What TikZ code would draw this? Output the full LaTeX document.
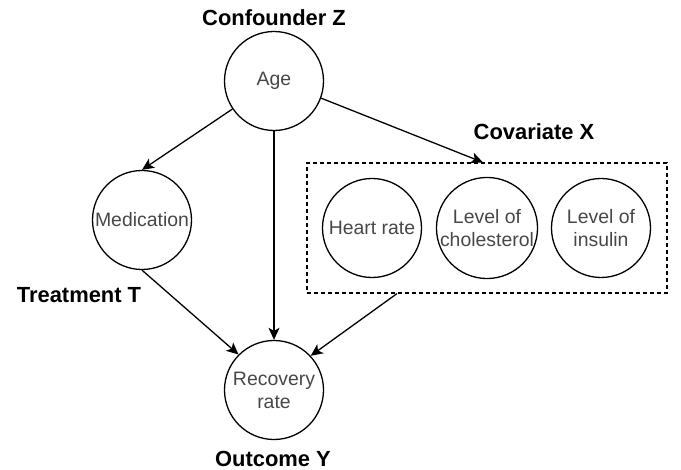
\documentclass[tikz,border=0pt]{standalone}
\usepackage{fontspec}
\setmainfont{Liberation Sans}
\usetikzlibrary{arrows.meta}
\begin{document}
\begin{tikzpicture}[x=1bp,y=-1bp,
  var/.style={circle,draw,line width=1.3bp,minimum size=99bp,inner sep=0pt,align=center,
    font=\fontsize{19.5}{23}\selectfont,text=black!72},
  lbl/.style={font=\bfseries\fontsize{22}{26}\selectfont},
  arr/.style={line width=1.3bp,-{Stealth[length=12bp,width=11bp,inset=3bp]}},
  groupbox/.style={draw,line width=1.2bp,dash pattern=on 4bp off 3bp,minimum width=360bp,minimum height=130bp,inner sep=0pt}]
\useasboundingbox (0,0) rectangle (681,470);
\node[groupbox] (box) at (487,228) {};
\node[var] (age) at (274,81) {Age};
\node[var] (med) at (142,220) {Medication};
\node[var] (rec) at (274,390) {Recovery\\rate};
\node[var] (hr) at (372,228) {Heart rate};
\node[var] (chol) at (487,228) {Level of\\cholesterol};
\node[var] (ins) at (601,228) {Level of\\insulin};
\node[lbl] (lz) at (274,18) {Confounder Z};
\node[lbl] (lt) at (79,295) {Treatment T};
\node[lbl] (lx) at (534,132) {Covariate X};
\node[lbl] (ly) at (273,459) {Outcome Y};
\draw[arr] (age.214.6) -- (med.north);
\draw[arr] (age.south) -- (rec.north);
\draw[arr] (age.-20.6) -- ([xshift=-4bp]box.north);
\draw[arr] (med.south) -- (rec.135.8);
\draw[arr] ([xshift=-90bp]box.south) -- (rec.43.5);
\end{tikzpicture}
\end{document}
